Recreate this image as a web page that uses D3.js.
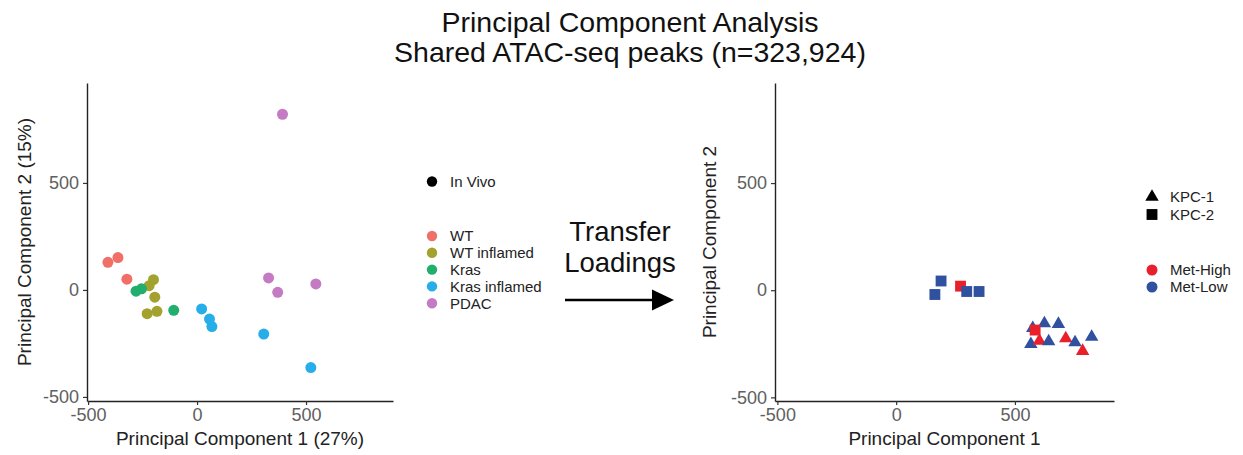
<!DOCTYPE html>
<html>
<head>
<meta charset="utf-8">
<title>PCA ATAC-seq</title>
<style>
body { margin: 0; background: #fff; }
svg { display: block; font-family: "Liberation Sans", Arial, sans-serif; }
.axis .domain { stroke: #222; stroke-width: 1.4; }
.axis .tick line { stroke: #333; stroke-width: 1.2; }
.axis .tick text { fill: #606060; font-size: 18px; }
.title { font-size: 28.5px; fill: #111; }
.axtitle { font-size: 19px; fill: #222; }
.leg { font-size: 15px; fill: #222; }
</style>
</head>
<body>
<svg></svg>
<script src="https://d3js.org/d3.v7.min.js"></script>
<script>
// in vivo samples (left panel)
const groups = ['WT', 'WT inflamed', 'Kras', 'Kras inflamed', 'PDAC'];
const inVivoGroup = ['WT','WT','WT',
                     'WT inflamed','WT inflamed','WT inflamed','WT inflamed','WT inflamed',
                     'Kras','Kras','Kras',
                     'Kras inflamed','Kras inflamed','Kras inflamed','Kras inflamed','Kras inflamed',
                     'PDAC','PDAC','PDAC','PDAC'];
const inVivoPC1 = [-409, -363, -322,
                   -200, -220, -194, -229, -184,
                   -280, -255, -107,
                   21, 57, 68, 306, 522,
                   392, 328, 370, 545];
const inVivoPC2 = [129, 151, 50,
                   48, 20, -34, -111, -100,
                   -6, 5, -95,
                   -89, -136, -171, -206, -363,
                   821, 56, -11, 28];

// KPC lines projected (right panel)
const kpcLines = ['KPC-1', 'KPC-2'];
const metLevels = ['Met-High', 'Met-Low'];
const kpcLine = ['KPC-2','KPC-2','KPC-2','KPC-2','KPC-2',
                 'KPC-1','KPC-1','KPC-1','KPC-1','KPC-1','KPC-1','KPC-1','KPC-1','KPC-1','KPC-1',
                 'KPC-2'];
const kpcMet = ['Met-High','Met-Low','Met-Low','Met-Low','Met-Low',
                'Met-Low','Met-Low','Met-Low','Met-Low','Met-High','Met-Low','Met-High','Met-Low','Met-Low','Met-High',
                'Met-High'];
const kpcPC1 = [271, 189, 163, 297, 349,
                575, 624, 683, 567, 603, 642, 714, 753, 823, 785,
                585];
const kpcPC2 = [19, 43, -20, -6, -6,
                -177, -155, -158, -252, -236, -239, -225, -244, -218, -284,
                -186];

const tickVals = [-500, 0, 500];

const W = 1243, H = 455;
const groupColor = d3.scaleOrdinal(groups, ['#f07068', '#a3a22e', '#22ae6c', '#27aee8', '#c57bc4']);
const metColor = d3.scaleOrdinal(metLevels, ['#e8202a', '#3050a0']);
const shape = d3.scaleOrdinal(kpcLines, [d3.symbolTriangle, d3.symbolSquare]);
const shapeSize = d3.scaleOrdinal(kpcLines, [78, 118]);

const svg = d3.select('svg').attr('width', W).attr('height', H);
svg.append('rect').attr('width', W).attr('height', H).attr('fill', '#fff');

// title
svg.append('text').attr('class', 'title').attr('x', 630).attr('y', 32)
   .attr('text-anchor', 'middle').text('Principal Component Analysis');
svg.append('text').attr('class', 'title').attr('x', 630).attr('y', 62)
   .attr('text-anchor', 'middle').text('Shared ATAC-seq peaks (n=323,924)');

function panel(xr, xd, yd, xlab, ylab, ylabX) {
  const x = d3.scaleLinear(xd, xr);
  const y = d3.scaleLinear(yd, [401, 83]);
  const g = svg.append('g');
  g.append('g').attr('class', 'axis')
   .attr('transform', 'translate(0,401)')
   .call(d3.axisBottom(x).tickValues(tickVals).tickSize(4).tickSizeOuter(0).tickPadding(3));
  g.append('g').attr('class', 'axis')
   .attr('transform', `translate(${xr[0]},0)`)
   .call(d3.axisLeft(y).tickValues(tickVals).tickSize(4).tickSizeOuter(0).tickPadding(4));
  g.selectAll('.tick text').text(d => d < 0 ? '-' + Math.abs(d) : d);
  g.append('text').attr('class', 'axtitle')
   .attr('x', (xr[0] + xr[1]) / 2).attr('y', 445)
   .attr('text-anchor', 'middle').text(xlab);
  g.append('text').attr('class', 'axtitle')
   .attr('transform', `translate(${ylabX},242) rotate(-90)`)
   .attr('text-anchor', 'middle').text(ylab);
  return {x, y, g};
}

// left panel
const L = panel([87, 393], [-505, 899], [-519, 967],
                'Principal Component 1 (27%)', 'Principal Component 2 (15%)', 31);
L.g.selectAll('circle.pt')
  .data(inVivoPC1.map((d, i) => ({pc1: d, pc2: inVivoPC2[i], grp: inVivoGroup[i]})))
  .join('circle')
  .attr('class', 'pt')
  .attr('cx', d => L.x(d.pc1))
  .attr('cy', d => L.y(d.pc2))
  .attr('r', 5.5)
  .attr('fill', d => groupColor(d.grp));

// left legend
const lg = svg.append('g');
lg.append('circle').attr('cx', 432).attr('cy', 181.5).attr('r', 5.2).attr('fill', '#000');
lg.append('text').attr('class', 'leg').attr('x', 450).attr('y', 181.5).attr('dy', '0.36em').text('In Vivo');
groups.forEach((k, i) => {
  const yy = 236 + i * 16.8;
  lg.append('circle').attr('cx', 432).attr('cy', yy).attr('r', 5.2).attr('fill', groupColor(k));
  lg.append('text').attr('class', 'leg').attr('x', 450).attr('y', yy).attr('dy', '0.36em').text(k);
});

// transfer arrow
const ta = svg.append('g');
ta.append('text').attr('x', 620).attr('y', 241).attr('text-anchor', 'middle')
  .style('font-size', '27.5px').attr('fill', '#111').text('Transfer');
ta.append('text').attr('x', 620).attr('y', 272).attr('text-anchor', 'middle')
  .style('font-size', '27.5px').attr('fill', '#111').text('Loadings');
ta.append('line').attr('x1', 565).attr('x2', 656).attr('y1', 300).attr('y2', 300)
  .attr('stroke', '#000').attr('stroke-width', 2.5);
ta.append('path').attr('d', 'M652,289.5L674,300L652,310.5Z').attr('fill', '#000');

// right panel
const R = panel([775, 1114], [-510, 917], [-517, 967],
                'Principal Component 1', 'Principal Component 2', 716);
R.g.selectAll('path.pt')
  .data(kpcPC1.map((d, i) => ({pc1: d, pc2: kpcPC2[i], line: kpcLine[i], met: kpcMet[i]})))
  .join('path')
  .attr('class', 'pt')
  .attr('transform', d => `translate(${R.x(d.pc1)},${R.y(d.pc2)})`)
  .attr('d', d => d3.symbol(shape(d.line), shapeSize(d.line))())
  .attr('fill', d => metColor(d.met));

// right legend
const rg = svg.append('g');
kpcLines.forEach((k, i) => {
  const yy = 197 + i * 17.5;
  rg.append('path').attr('transform', `translate(1152,${yy})`)
    .attr('d', d3.symbol(shape(k), shapeSize(k))()).attr('fill', '#000');
  rg.append('text').attr('class', 'leg').attr('x', 1170).attr('y', yy).attr('dy', '0.36em').text(k);
});
metLevels.forEach((k, i) => {
  const yy = 270 + i * 17;
  rg.append('circle').attr('cx', 1152).attr('cy', yy).attr('r', 5.5).attr('fill', metColor(k));
  rg.append('text').attr('class', 'leg').attr('x', 1170).attr('y', yy).attr('dy', '0.36em').text(k);
});
</script>
</body>
</html>
